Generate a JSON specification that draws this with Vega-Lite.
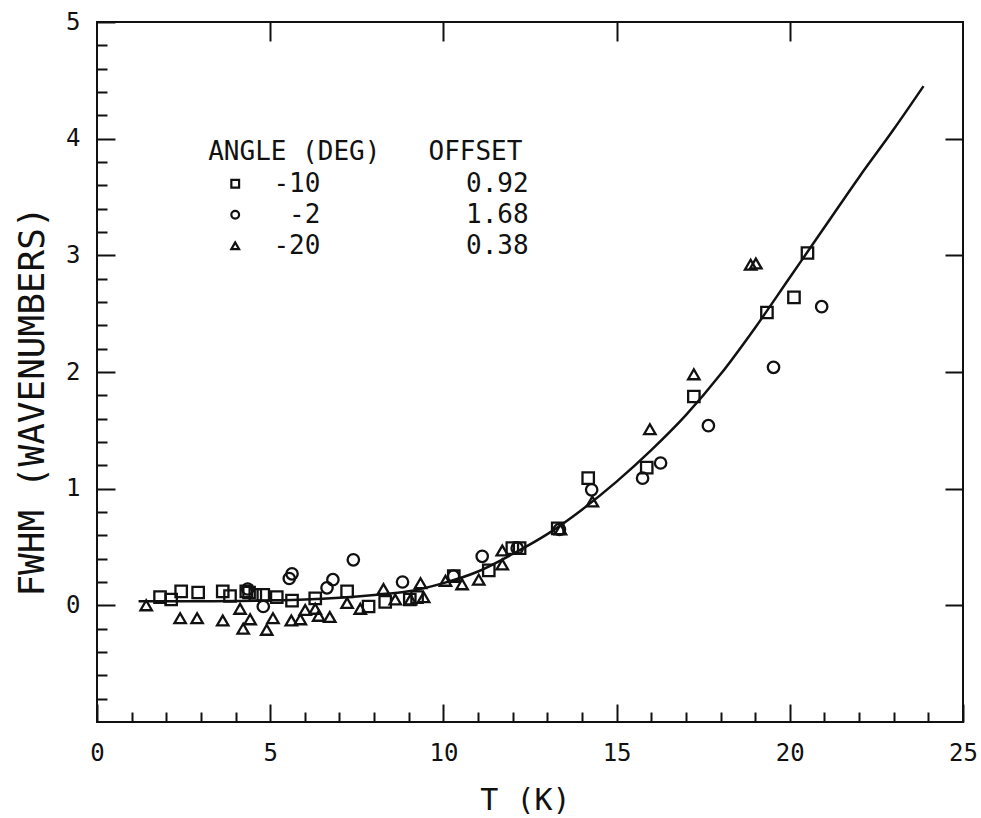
{
  "$schema": "https://vega.github.io/schema/vega-lite/v6.json",
  "width": 866,
  "height": 700,
  "autosize": {"type": "none"},
  "padding": {"left": 97, "top": 22, "right": 18, "bottom": 96},
  "background": "white",
  "config": {
    "view": {"stroke": "#111", "strokeWidth": 2},
    "axis": {
      "domain": false,
      "grid": false,
      "tickColor": "#111",
      "tickWidth": 2,
      "labelColor": "#111",
      "titleColor": "#111",
      "labelFont": "DejaVu Sans Mono",
      "titleFont": "DejaVu Sans Mono",
      "labelFontSize": 24,
      "titleFontWeight": "normal",
      "labelFlush": false,
      "labelOverlap": false
    }
  },
  "resolve": {"axis": {"x": "independent", "y": "independent"}},
  "layer": [
    {
      "data": {"values": [
        {"T": 1.2, "FWHM": 0.035}, {"T": 2, "FWHM": 0.035}, {"T": 3, "FWHM": 0.035},
        {"T": 4, "FWHM": 0.037}, {"T": 5, "FWHM": 0.042}, {"T": 6, "FWHM": 0.05},
        {"T": 7, "FWHM": 0.065}, {"T": 8, "FWHM": 0.088}, {"T": 9, "FWHM": 0.12},
        {"T": 10, "FWHM": 0.19}, {"T": 11, "FWHM": 0.29}, {"T": 12, "FWHM": 0.44},
        {"T": 13, "FWHM": 0.61}, {"T": 14, "FWHM": 0.82}, {"T": 15, "FWHM": 1.06},
        {"T": 16, "FWHM": 1.33}, {"T": 17, "FWHM": 1.63}, {"T": 18, "FWHM": 1.98},
        {"T": 19, "FWHM": 2.38}, {"T": 20, "FWHM": 2.81}, {"T": 21, "FWHM": 3.24},
        {"T": 22, "FWHM": 3.67}, {"T": 23, "FWHM": 4.08}, {"T": 23.86, "FWHM": 4.45}
      ]},
      "mark": {"type": "line", "interpolate": "monotone", "color": "#111", "strokeWidth": 2.5},
      "encoding": {
        "x": {
          "field": "T", "type": "quantitative",
          "scale": {"domain": [0, 25], "nice": false, "zero": false},
          "axis": {
            "orient": "bottom", "values": [0, 5, 10, 15, 20, 25], "tickSize": -18,
            "labelPadding": 56, "labelBaseline": "alphabetic",
            "title": "T  (K)", "titleFontSize": 30, "titleX": 428, "titleY": 87,
            "titleBaseline": "alphabetic", "titleAlign": "center"
          }
        },
        "y": {
          "field": "FWHM", "type": "quantitative",
          "scale": {"domain": [-1, 5], "nice": false, "zero": false},
          "axis": {
            "orient": "left", "values": [0, 1, 2, 3, 4, 5], "tickSize": -18,
            "labelPadding": 35, "labelBaseline": "middle",
            "title": "FWHM (WAVENUMBERS)", "titleFontSize": 36, "titleAngle": -90,
            "titleX": -54, "titleY": 379, "titleAlign": "center", "titleBaseline": "alphabetic"
          }
        }
      }
    },
    {
      "data": {"values": [
        {"T": 1.82, "FWHM": 0.07, "angle": "-10"}, {"T": 2.14, "FWHM": 0.05, "angle": "-10"},
        {"T": 2.43, "FWHM": 0.12, "angle": "-10"}, {"T": 2.92, "FWHM": 0.11, "angle": "-10"},
        {"T": 3.63, "FWHM": 0.12, "angle": "-10"}, {"T": 3.84, "FWHM": 0.08, "angle": "-10"},
        {"T": 4.31, "FWHM": 0.12, "angle": "-10"}, {"T": 4.39, "FWHM": 0.11, "angle": "-10"},
        {"T": 4.57, "FWHM": 0.09, "angle": "-10"}, {"T": 4.8, "FWHM": 0.09, "angle": "-10"},
        {"T": 5.19, "FWHM": 0.07, "angle": "-10"}, {"T": 5.63, "FWHM": 0.04, "angle": "-10"},
        {"T": 6.3, "FWHM": 0.06, "angle": "-10"}, {"T": 7.22, "FWHM": 0.12, "angle": "-10"},
        {"T": 7.84, "FWHM": -0.01, "angle": "-10"}, {"T": 8.32, "FWHM": 0.03, "angle": "-10"},
        {"T": 9.03, "FWHM": 0.05, "angle": "-10"}, {"T": 9.24, "FWHM": 0.07, "angle": "-10"},
        {"T": 10.3, "FWHM": 0.25, "angle": "-10"}, {"T": 11.31, "FWHM": 0.3, "angle": "-10"},
        {"T": 11.99, "FWHM": 0.49, "angle": "-10"}, {"T": 12.2, "FWHM": 0.49, "angle": "-10"},
        {"T": 13.3, "FWHM": 0.66, "angle": "-10"}, {"T": 14.18, "FWHM": 1.09, "angle": "-10"},
        {"T": 15.87, "FWHM": 1.18, "angle": "-10"}, {"T": 17.23, "FWHM": 1.79, "angle": "-10"},
        {"T": 19.34, "FWHM": 2.51, "angle": "-10"}, {"T": 20.12, "FWHM": 2.64, "angle": "-10"},
        {"T": 20.51, "FWHM": 3.02, "angle": "-10"},
        {"T": 4.35, "FWHM": 0.14, "angle": "-2"}, {"T": 4.8, "FWHM": -0.01, "angle": "-2"},
        {"T": 5.55, "FWHM": 0.23, "angle": "-2"}, {"T": 5.63, "FWHM": 0.27, "angle": "-2"},
        {"T": 6.64, "FWHM": 0.15, "angle": "-2"}, {"T": 6.81, "FWHM": 0.22, "angle": "-2"},
        {"T": 7.4, "FWHM": 0.39, "angle": "-2"}, {"T": 8.82, "FWHM": 0.2, "angle": "-2"},
        {"T": 10.29, "FWHM": 0.25, "angle": "-2"}, {"T": 11.12, "FWHM": 0.42, "angle": "-2"},
        {"T": 12.13, "FWHM": 0.49, "angle": "-2"}, {"T": 13.35, "FWHM": 0.65, "angle": "-2"},
        {"T": 14.28, "FWHM": 0.99, "angle": "-2"}, {"T": 15.75, "FWHM": 1.09, "angle": "-2"},
        {"T": 16.27, "FWHM": 1.22, "angle": "-2"}, {"T": 17.65, "FWHM": 1.54, "angle": "-2"},
        {"T": 19.53, "FWHM": 2.04, "angle": "-2"}, {"T": 20.92, "FWHM": 2.56, "angle": "-2"},
        {"T": 1.42, "FWHM": 0.0, "angle": "-20"}, {"T": 2.4, "FWHM": -0.11, "angle": "-20"},
        {"T": 2.89, "FWHM": -0.11, "angle": "-20"}, {"T": 3.63, "FWHM": -0.13, "angle": "-20"},
        {"T": 4.13, "FWHM": -0.03, "angle": "-20"}, {"T": 4.22, "FWHM": -0.2, "angle": "-20"},
        {"T": 4.42, "FWHM": -0.12, "angle": "-20"}, {"T": 4.9, "FWHM": -0.21, "angle": "-20"},
        {"T": 5.08, "FWHM": -0.11, "angle": "-20"}, {"T": 5.61, "FWHM": -0.13, "angle": "-20"},
        {"T": 5.87, "FWHM": -0.12, "angle": "-20"}, {"T": 6.01, "FWHM": -0.04, "angle": "-20"},
        {"T": 6.3, "FWHM": -0.03, "angle": "-20"}, {"T": 6.4, "FWHM": -0.09, "angle": "-20"},
        {"T": 6.72, "FWHM": -0.1, "angle": "-20"}, {"T": 7.22, "FWHM": 0.02, "angle": "-20"},
        {"T": 7.6, "FWHM": -0.03, "angle": "-20"}, {"T": 8.27, "FWHM": 0.14, "angle": "-20"},
        {"T": 8.61, "FWHM": 0.05, "angle": "-20"}, {"T": 9.05, "FWHM": 0.05, "angle": "-20"},
        {"T": 9.34, "FWHM": 0.19, "angle": "-20"}, {"T": 9.43, "FWHM": 0.07, "angle": "-20"},
        {"T": 10.06, "FWHM": 0.21, "angle": "-20"}, {"T": 10.54, "FWHM": 0.18, "angle": "-20"},
        {"T": 11.02, "FWHM": 0.22, "angle": "-20"}, {"T": 11.7, "FWHM": 0.47, "angle": "-20"},
        {"T": 11.7, "FWHM": 0.35, "angle": "-20"}, {"T": 13.38, "FWHM": 0.65, "angle": "-20"},
        {"T": 14.3, "FWHM": 0.89, "angle": "-20"}, {"T": 15.96, "FWHM": 1.51, "angle": "-20"},
        {"T": 17.23, "FWHM": 1.98, "angle": "-20"}, {"T": 18.87, "FWHM": 2.92, "angle": "-20"},
        {"T": 19.02, "FWHM": 2.93, "angle": "-20"}
      ]},
      "mark": {"type": "point", "filled": false, "strokeWidth": 2.3, "size": 130, "color": "#111", "opacity": 1},
      "encoding": {
        "x": {
          "field": "T", "type": "quantitative",
          "axis": {"orient": "bottom", "values": [1,2,3,4,6,7,8,9,11,12,13,14,16,17,18,19,21,22,23,24], "tickSize": -10, "labels": false, "title": null}
        },
        "y": {
          "field": "FWHM", "type": "quantitative",
          "axis": {"orient": "left", "values": [-0.8,-0.6,-0.4,-0.2,0.2,0.4,0.6,0.8,1.2,1.4,1.6,1.8,2.2,2.4,2.6,2.8,3.2,3.4,3.6,3.8,4.2,4.4,4.6,4.8], "tickSize": -10, "labels": false, "title": null}
        },
        "shape": {
          "field": "angle", "type": "nominal",
          "scale": {"domain": ["-10", "-2", "-20"], "range": ["square", "circle", "triangle-up"]},
          "legend": null
        }
      }
    },
    {
      "data": {"values": [
        {"T": 3.21, "FWHM": 3.887, "label": "ANGLE (DEG)"},
        {"T": 9.57, "FWHM": 3.887, "label": "OFFSET"}
      ]},
      "mark": {"type": "text", "align": "left", "baseline": "middle", "font": "DejaVu Sans Mono", "fontSize": 26, "color": "#111"},
      "encoding": {
        "x": {
          "field": "T", "type": "quantitative",
          "axis": {"orient": "top", "values": [5, 10, 15, 20], "tickSize": -19, "labels": false, "title": null}
        },
        "y": {
          "field": "FWHM", "type": "quantitative",
          "axis": {"orient": "right", "values": [0, 1, 2, 3, 4], "tickSize": -18, "labels": false, "title": null}
        },
        "text": {"field": "label"}
      }
    },
    {
      "data": {"values": [
        {"T": 6.45, "FWHM": 3.613, "label": "-10"},
        {"T": 6.45, "FWHM": 3.348, "label": "-2"},
        {"T": 6.45, "FWHM": 3.082, "label": "-20"},
        {"T": 12.46, "FWHM": 3.613, "label": "0.92"},
        {"T": 12.46, "FWHM": 3.348, "label": "1.68"},
        {"T": 12.46, "FWHM": 3.082, "label": "0.38"}
      ]},
      "mark": {"type": "text", "align": "right", "baseline": "middle", "font": "DejaVu Sans Mono", "fontSize": 26, "color": "#111"},
      "encoding": {
        "x": {"field": "T", "type": "quantitative", "axis": null},
        "y": {"field": "FWHM", "type": "quantitative", "axis": null},
        "text": {"field": "label"}
      }
    },
    {
      "data": {"values": [
        {"T": 3.99, "FWHM": 3.613, "angle": "-10"},
        {"T": 3.99, "FWHM": 3.348, "angle": "-2"},
        {"T": 3.99, "FWHM": 3.082, "angle": "-20"}
      ]},
      "mark": {"type": "point", "filled": false, "strokeWidth": 2.2, "size": 60, "color": "#111", "opacity": 1},
      "encoding": {
        "x": {"field": "T", "type": "quantitative", "axis": null},
        "y": {"field": "FWHM", "type": "quantitative", "axis": null},
        "shape": {"field": "angle", "type": "nominal", "legend": null}
      }
    }
  ]
}
